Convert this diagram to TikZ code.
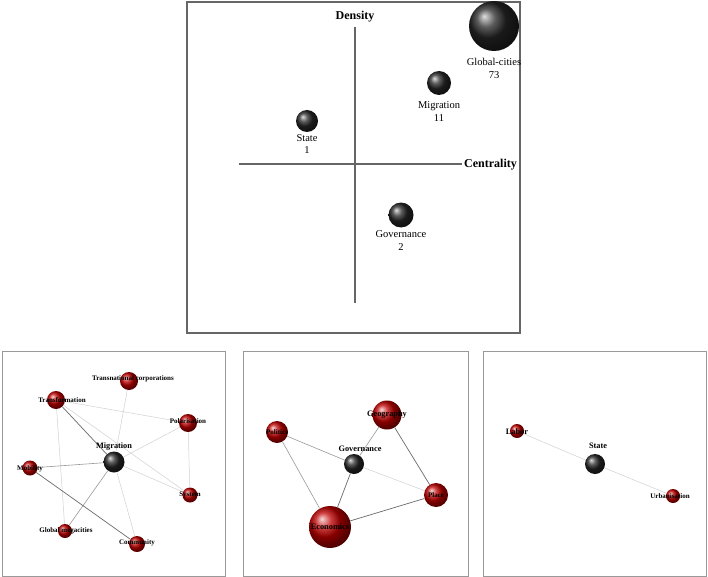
\documentclass[tikz,border=0pt]{standalone}
\usepackage{fontspec}
\setmainfont{Liberation Serif}
\usetikzlibrary{shadings}
\begin{document}
\begin{tikzpicture}[x=1pt,y=-1pt,
  frametop/.style={draw=black!60,line width=1.6pt},
  framebot/.style={draw=black!40,line width=0.9pt},
  axis/.style={draw=black!60,line width=2pt},
  blackball/.style={circle,inner sep=0pt,shading=ball,ball color=black!85},
  redball/.style={circle,inner sep=0pt,shading=ball,ball color=red!75!black},
  toplab/.style={inner sep=0pt,font=\fontsize{10.5}{12}\selectfont},
  axlab/.style={inner sep=0pt,font=\fontsize{12}{14}\selectfont\bfseries},
  lab/.style={inner sep=0pt,font=\fontsize{7}{8}\selectfont\bfseries},
  biglab/.style={inner sep=0pt,font=\fontsize{8.3}{9}\selectfont\bfseries},
  elight/.style={draw=black!18,line width=0.5pt},
  emid/.style={draw=black!40,line width=0.6pt},
  edark/.style={draw=black!58,line width=0.7pt}]
\useasboundingbox[fill=white] (0,0) rectangle (708,577);

% ---------- top panel ----------
\draw[frametop] (187,2) rectangle (520,333);
\coordinate (ytop) at (355,27);
\coordinate (ybot) at (355,303);
\coordinate (xl) at (239,164);
\coordinate (xr) at (462,164);
\draw[axis] (ytop) -- (ybot);
\draw[axis] (xl) -- (xr);
\node[axlab] (dens) at (355,17) {Density};
\node[axlab,anchor=west] (cent) at (464,165) {Centrality};

\node[blackball,minimum size=50pt] (tgc) at (494,26) {};
\node[blackball,minimum size=24pt] (tmig) at (439,83) {};
\node[blackball,minimum size=22pt] (tst) at (307,121) {};
\node[blackball,minimum size=25pt] (tgov) at (401,215) {};
\node[toplab] (tgcl) at (494,62) {Global-cities};
\node[toplab] (tgcn) at (494,75) {73};
\node[toplab] (tmigl) at (439,106) {Migration};
\node[toplab] (tmign) at (439,118) {11};
\node[toplab] (tstl) at (307,138) {State};
\node[toplab] (tstn) at (307,150) {1};
\node[toplab] (tgovl) at (401,234) {Governance};
\node[toplab] (tgovn) at (401,247) {2};

% ---------- panel 1 ----------
\draw[framebot] (2,351) rectangle (225,576);
\node[redball,minimum size=18pt] (tc) at (129,381) {};
\node[redball,minimum size=18pt] (tf) at (56,400) {};
\node[redball,minimum size=18pt] (po) at (188,423) {};
\node[blackball,minimum size=21pt] (mg) at (114,462) {};
\node[redball,minimum size=15pt] (mo) at (30,468) {};
\node[redball,minimum size=15pt] (sy) at (190,495) {};
\node[redball,minimum size=14pt] (gm) at (65,531) {};
\node[redball,minimum size=16pt] (co) at (137,544) {};
\draw[edark] (tf) -- (mg);
\draw[elight] (tf) -- (po);
\draw[elight] (tf) -- (sy);
\draw[elight] (tf) -- (gm);
\draw[elight] (tc) -- (mg);
\draw[elight] (po) -- (mg);
\draw[elight] (po) -- (sy);
\draw[emid] (mg) -- (mo);
\draw[elight] (mg) -- (sy);
\draw[emid] (mg) -- (gm);
\draw[elight] (mg) -- (co);
\draw[edark] (mo) -- (co);
\node[lab] (tcl) at (133,379) {Transnational corporations};
\node[lab] (tfl) at (62,400) {Transformation};
\node[lab] (pol) at (188,421) {Polarisation};
\node[biglab] (mgl) at (114,447) {Migration};
\node[lab] (mol) at (30,469) {Mobility};
\node[lab] (syl) at (190,495) {System};
\node[lab] (gml) at (66,531) {Global megacities};
\node[lab] (col) at (137,543) {Community};

% ---------- panel 2 ----------
\draw[framebot] (243,351) rectangle (468,576);
\node[redball,minimum size=29pt] (ge) at (387,415) {};
\node[redball,minimum size=22pt] (pl) at (277,432) {};
\node[blackball,minimum size=20pt] (gv) at (354,464) {};
\node[redball,minimum size=24pt] (pc) at (436,495) {};
\node[redball,minimum size=42pt] (ec) at (330,527) {};
\draw[emid] (pl) -- (gv);
\draw[emid] (pl) -- (ec);
\draw[emid] (gv) -- (ge);
\draw[edark] (gv) -- (ec);
\draw[elight] (gv) -- (pc);
\draw[edark] (ge) -- (pc);
\draw[edark] (ec) -- (pc);
\node[biglab] (gel) at (387,415) {Geography};
\node[lab] (pll) at (277,432) {Politics};
\node[biglab] (gvl) at (360,449) {Governance};
\node[lab] (pcl) at (436,495) {Place};
\node[biglab] (ecl) at (330,527) {Economics};

% ---------- panel 3 ----------
\draw[framebot] (483,351) rectangle (706,576);
\node[redball,minimum size=14pt] (la) at (517,431) {};
\node[blackball,minimum size=20pt] (st) at (595,464) {};
\node[redball,minimum size=14pt] (ur) at (673,496) {};
\draw[elight] (la) -- (st);
\draw[elight] (st) -- (ur);
\node[biglab] (lal) at (517,432) {Labor};
\node[biglab] (stl) at (598,446) {State};
\node[lab] (url) at (670,496) {Urbanisation};
\end{tikzpicture}
\end{document}
